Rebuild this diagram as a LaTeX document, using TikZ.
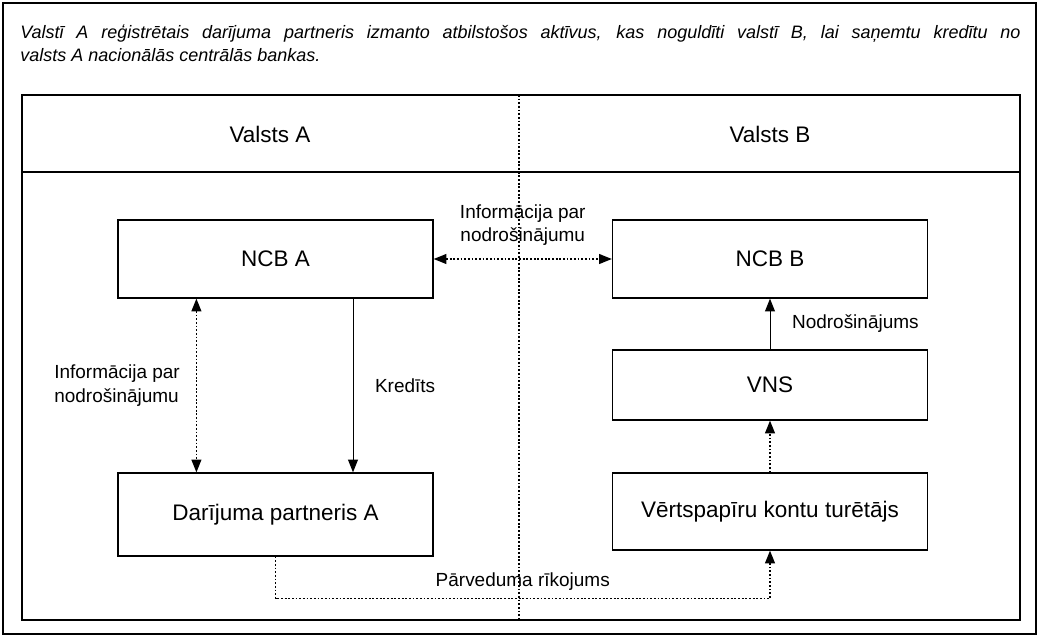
\documentclass[tikz,border=0pt]{standalone}
\usepackage{fontspec}
\setmainfont{Liberation Sans}
\usetikzlibrary{arrows.meta, positioning, calc}

\begin{document}
\begin{tikzpicture}[
    x=0.025cm, y=-0.025cm,
    >={Triangle[length=9pt, width=7pt]},
    box/.style = {rectangle, draw, line width=0.9pt, minimum width=7.875cm,
                  minimum height=1.95cm, font=\fontsize{16}{19}\selectfont},
    lbl/.style = {font=\fontsize{13.5}{16.5}\selectfont, align=left},
    frame/.style = {line width=1pt},
    arrow/.style = {->, line width=0.7pt},
    dotarrow/.style = {line width=0.9pt, dash pattern=on 1.3pt off 1.3pt}
  ]
  \useasboundingbox (0,0) rectangle (1040,638);

  % frames
  \draw[frame] (3,3) rectangle (1036,634);
  \draw[frame] (22,95) rectangle (1020,620);
  \draw[frame] (22,172) -- (1020,172);
  \draw[dotarrow] (519,95) -- (519,620);

  \node[anchor=north west, inner sep=0pt, text width=25cm, align=justify,
        font=\itshape\fontsize{12.8}{16.8}\selectfont] (intro) at (20,24)
    {Valstī A reģistrētais darījuma partneris izmanto atbilstošos aktīvus, kas noguldīti valstī B, lai saņemtu kredītu no\linebreak valsts A nacionālās centrālās bankas.};

  \node[font=\fontsize{16}{19}\selectfont] (valA) at (270,134) {Valsts A};
  \node[font=\fontsize{16}{19}\selectfont] (valB) at (770,134) {Valsts B};

  % boxes
  \node[box] (ncbA) at (275.5,259) {NCB A};
  \node[box] (ncbB) at (770,259) {NCB B};
  \node[box, minimum height=1.75cm] (vns) at (770,385) {VNS};
  \node[box, minimum height=2.075cm] (partA) at (275.5,514.5) {Darījuma partneris A};
  \node[box, minimum height=1.925cm] (vkt) at (770,511.5) {Vērtspapīru kontu turētājs};

  % connectors
  \draw[dotarrow, <->] (ncbA) -- node[lbl, above=6pt, align=center] {Informācija par\\nodrošinājumu} (ncbB);
  \draw[dotarrow, <->] ($(ncbA.south west)!0.25!(ncbA.south east)$)
    -- node[lbl, left=8pt] {Informācija par\\nodrošinājumu}
    ($(partA.north west)!0.25!(partA.north east)$);
  \draw[arrow] ($(ncbA.south west)!0.745!(ncbA.south east)$)
    -- node[lbl, right=12pt] {Kredīts}
    ($(partA.north west)!0.745!(partA.north east)$);
  \draw[arrow] (vns) -- node[lbl, right=12pt] {Nodrošinājums} (ncbB);
  \draw[dotarrow, ->] (vkt) -- (vns);
  \draw[dotarrow, ->] (partA.south) -- ++(0,42)
    -| node[lbl, pos=0.25, above=2pt] {Pārveduma rīkojums} (vkt.south);
\end{tikzpicture}
\end{document}
